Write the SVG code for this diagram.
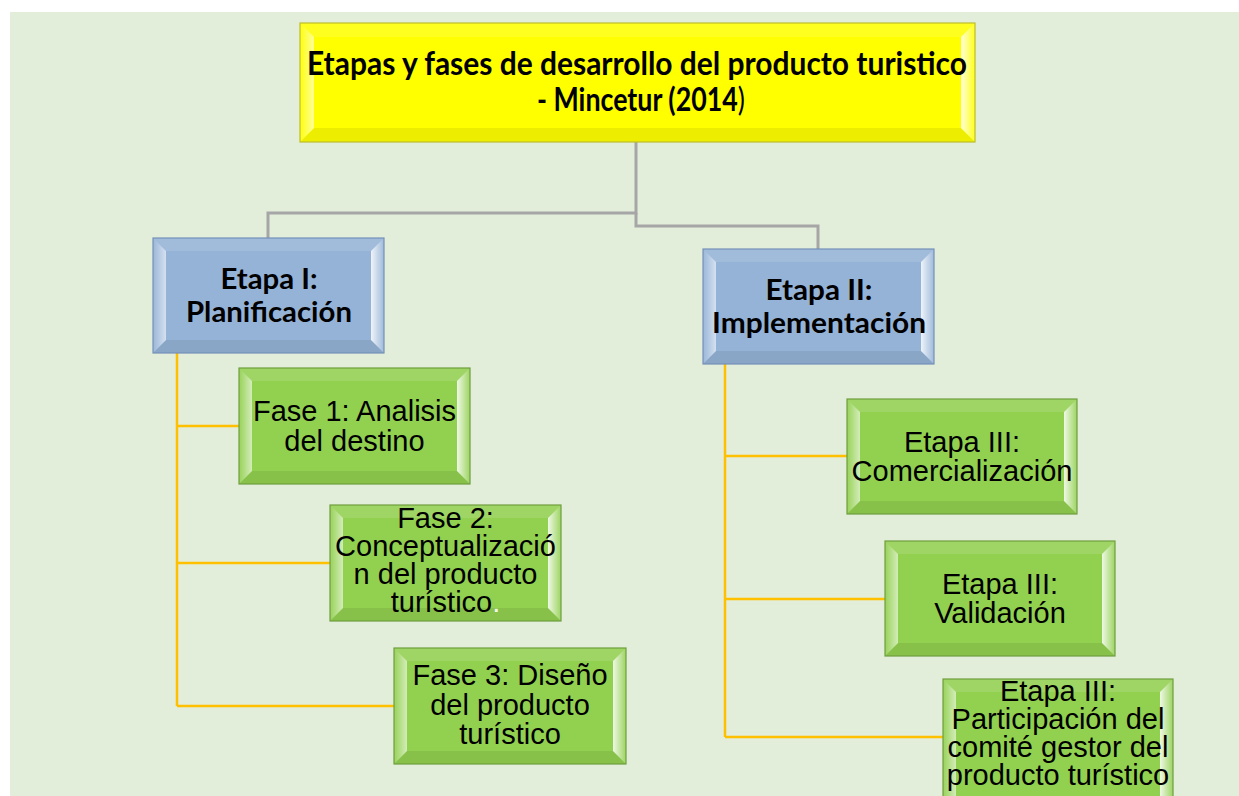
<svg xmlns="http://www.w3.org/2000/svg" width="1239" height="796" viewBox="0 0 1239 796">
<style>
.bg{fill:#E2EED9}
.y{fill:#FFFF00}
.b{fill:#95B3D7}
.g{fill:#92D050}
.hi{fill:#FFFFFF;fill-opacity:0.12}
.lo{fill:#000000;fill-opacity:0.07}
.lf{fill:url(#gl)}
.rt{fill:url(#gr)}
.eY{fill:none;stroke:#BDBD2A;stroke-width:1.2}
.eB{fill:none;stroke:#7590B8;stroke-width:1.2}
.eG{fill:none;stroke:#6F9E3E;stroke-width:1.2}
.tb{font-family:Lato,"Liberation Sans",sans-serif;font-weight:bold;fill:#000;text-anchor:middle}
.tr{font-family:"Liberation Sans",Arial,sans-serif;font-size:29px;fill:#000;text-anchor:middle}
.cg{fill:none;stroke:#A6A6A6;stroke-width:3}
.cy{fill:none;stroke:#FFC000;stroke-width:2.5}
</style>
<defs>
<linearGradient id="gl" x1="0" y1="0" x2="1" y2="0">
<stop offset="0" stop-color="#FFFFFF" stop-opacity="0.05"/>
<stop offset="1" stop-color="#FFFFFF" stop-opacity="0.6"/>
</linearGradient>
<linearGradient id="gr" x1="0" y1="0" x2="1" y2="0">
<stop offset="0" stop-color="#FFFFFF" stop-opacity="0.85"/>
<stop offset="1" stop-color="#FFFFFF" stop-opacity="0.1"/>
</linearGradient>
</defs>
<rect class="bg" x="10" y="12" width="1229" height="784"/>

<g id="connectors">
<path class="cg" d="M636,142 V213 H268 V238"/>
<path class="cg" d="M636,213 V226 H818 V249"/>
<path class="cy" d="M177,353 V706 M177,426 H239 M177,563 H330 M177,706 H394"/>
<path class="cy" d="M725,364 V737 M725,456 H847 M725,599 H885 M725,737 H943"/>
</g>

<g id="title">
<rect class="y" x="300" y="23" width="675" height="119"/>
<polygon class="hi" points="300,23 975,23 961,37 314,37"/>
<polygon class="lo" points="300,142 975,142 961,128 314,128"/>
<polygon class="lf" points="300,23 314,37 314,128 300,142"/>
<polygon class="rt" points="975,23 961,37 961,128 975,142"/>
<rect class="eY" x="300" y="23" width="675" height="119"/>
<text class="tb" font-size="32" x="637" y="75" textLength="660" lengthAdjust="spacingAndGlyphs">Etapas y fases de desarrollo del producto turistico</text>
<text class="tb" font-size="32" x="641" y="111" textLength="208" lengthAdjust="spacingAndGlyphs">- Mincetur (2014<tspan font-weight="normal">)</tspan></text>
</g>

<g id="etapa1">
<rect class="b" x="153" y="238" width="231" height="115"/>
<polygon class="hi" points="153,238 384,238 371,251 166,251"/>
<polygon class="lo" points="153,353 384,353 371,340 166,340"/>
<polygon class="lf" points="153,238 166,251 166,340 153,353"/>
<polygon class="rt" points="384,238 371,251 371,340 384,353"/>
<rect class="eB" x="153" y="238" width="231" height="115"/>
<text class="tb" font-size="29" x="269" y="289" textLength="97" lengthAdjust="spacingAndGlyphs">Etapa I:</text>
<text class="tb" font-size="29" x="269" y="322" textLength="166" lengthAdjust="spacingAndGlyphs">Planificación</text>
</g>

<g id="etapa2">
<rect class="b" x="703" y="249" width="231" height="115"/>
<polygon class="hi" points="703,249 934,249 921,262 716,262"/>
<polygon class="lo" points="703,364 934,364 921,351 716,351"/>
<polygon class="lf" points="703,249 716,262 716,351 703,364"/>
<polygon class="rt" points="934,249 921,262 921,351 934,364"/>
<rect class="eB" x="703" y="249" width="231" height="115"/>
<text class="tb" font-size="29" x="819" y="300" textLength="107" lengthAdjust="spacingAndGlyphs">Etapa II:</text>
<text class="tb" font-size="29" x="819" y="333" textLength="214" lengthAdjust="spacingAndGlyphs">Implementación</text>
</g>

<g id="fase1">
<rect class="g" x="239" y="368" width="231" height="116"/>
<polygon class="hi" points="239,368 470,368 457,381 252,381"/>
<polygon class="lo" points="239,484 470,484 457,471 252,471"/>
<polygon class="lf" points="239,368 252,381 252,471 239,484"/>
<polygon class="rt" points="470,368 457,381 457,471 470,484"/>
<rect class="eG" x="239" y="368" width="231" height="116"/>
<text class="tr" x="354.5" y="421">Fase 1: Analisis</text>
<text class="tr" x="354.5" y="451">del destino</text>
</g>

<g id="fase2">
<rect class="g" x="330" y="505" width="231" height="116"/>
<polygon class="hi" points="330,505 561,505 548,518 343,518"/>
<polygon class="lo" points="330,621 561,621 548,608 343,608"/>
<polygon class="lf" points="330,505 343,518 343,608 330,621"/>
<polygon class="rt" points="561,505 548,518 548,608 561,621"/>
<rect class="eG" x="330" y="505" width="231" height="116"/>
<text class="tr" x="445.5" y="528">Fase 2:</text>
<text class="tr" x="445.5" y="556">Conceptualizació</text>
<text class="tr" x="445.5" y="584">n del producto</text>
<text class="tr" x="445.5" y="612">turístico<tspan fill="#F4F8EC">.</tspan></text>
</g>

<g id="fase3">
<rect class="g" x="394" y="648" width="232" height="116"/>
<polygon class="hi" points="394,648 626,648 613,661 407,661"/>
<polygon class="lo" points="394,764 626,764 613,751 407,751"/>
<polygon class="lf" points="394,648 407,661 407,751 394,764"/>
<polygon class="rt" points="626,648 613,661 613,751 626,764"/>
<rect class="eG" x="394" y="648" width="232" height="116"/>
<text class="tr" x="510" y="685">Fase 3: Diseño</text>
<text class="tr" x="510" y="715">del producto</text>
<text class="tr" x="510" y="744">turístico</text>
</g>

<g id="comercializacion">
<rect class="g" x="847" y="399" width="230" height="115"/>
<polygon class="hi" points="847,399 1077,399 1064,412 860,412"/>
<polygon class="lo" points="847,514 1077,514 1064,501 860,501"/>
<polygon class="lf" points="847,399 860,412 860,501 847,514"/>
<polygon class="rt" points="1077,399 1064,412 1064,501 1077,514"/>
<rect class="eG" x="847" y="399" width="230" height="115"/>
<text class="tr" x="962" y="452">Etapa III:</text>
<text class="tr" x="962" y="481">Comercialización</text>
</g>

<g id="validacion">
<rect class="g" x="885" y="541" width="230" height="115"/>
<polygon class="hi" points="885,541 1115,541 1102,554 898,554"/>
<polygon class="lo" points="885,656 1115,656 1102,643 898,643"/>
<polygon class="lf" points="885,541 898,554 898,643 885,656"/>
<polygon class="rt" points="1115,541 1102,554 1102,643 1115,656"/>
<rect class="eG" x="885" y="541" width="230" height="115"/>
<text class="tr" x="1000" y="594">Etapa III:</text>
<text class="tr" x="1000" y="623">Validación</text>
</g>

<g id="participacion">
<rect class="g" x="943" y="679" width="230" height="130"/>
<polygon class="hi" points="943,679 1173,679 1160,692 956,692"/>
<polygon class="lf" points="943,679 956,692 956,809 943,809"/>
<polygon class="rt" points="1173,679 1160,692 1160,809 1173,809"/>
<rect class="eG" x="943" y="679" width="230" height="130"/>
<text class="tr" x="1058" y="701">Etapa III:</text>
<text class="tr" x="1058" y="729">Participación del</text>
<text class="tr" x="1058" y="757">comité gestor del</text>
<text class="tr" x="1058" y="785">producto turístico</text>
</g>
</svg>
